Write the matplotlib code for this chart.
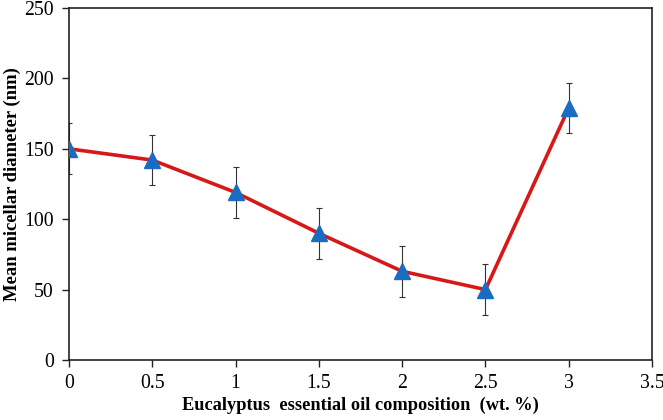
import numpy as np
from matplotlib import pyplot as plt

# data
oil_wt = [0, 0.5, 1, 1.5, 2, 2.5, 3]
diameter = [150, 142, 119, 90, 63, 50, 179]
diameter_err = [18, 18, 18, 18, 18, 18, 18]

plt.rcParams['font.family'] = ['Liberation Serif', 'DejaVu Serif']

fig = plt.figure(figsize=(6.63, 4.2), dpi=100)
ax = fig.add_axes([69 / 663, 1 - 360 / 420, (652 - 69) / 663, (360 - 8) / 420])

ax.errorbar(oil_wt, diameter, yerr=diameter_err, fmt='none', ecolor='#333333',
            elinewidth=0.8, capsize=2, capthick=0.8, zorder=1)
ax.plot(oil_wt, diameter, color='#d81818', linewidth=2.6, zorder=2)
ax.plot(oil_wt, diameter, linestyle='none', marker='^', markersize=11,
        color='#1a6cc0', markeredgecolor='#1a6cc0', zorder=3)

ax.set_xlim(0, 3.5)
ax.set_ylim(0, 250)
ax.set_xticks(np.arange(0, 3.51, 0.5))
ax.set_xticklabels(['0', '0.5', '1', '1.5', '2', '2.5', '3', '3.5'])
ax.set_yticks(np.arange(0, 251, 50))

for s in ax.spines.values():
    s.set_linewidth(1.2)
    s.set_color('#222222')
ax.tick_params(axis='both', direction='out', length=5, width=1.0,
               labelsize=14.2, color='#222222')
ax.tick_params(axis='x', pad=5)
ax.tick_params(axis='y', pad=6)

ax.set_xlabel('Eucalyptus  essential oil composition  (wt. %)', fontsize=13.2,
              fontweight='bold', labelpad=3)
ax.set_ylabel('Mean micellar diameter (nm)', fontsize=13.4, fontweight='bold')
ax.yaxis.set_label_coords(-0.082, 0.5)

plt.savefig('out.png', dpi=100)
